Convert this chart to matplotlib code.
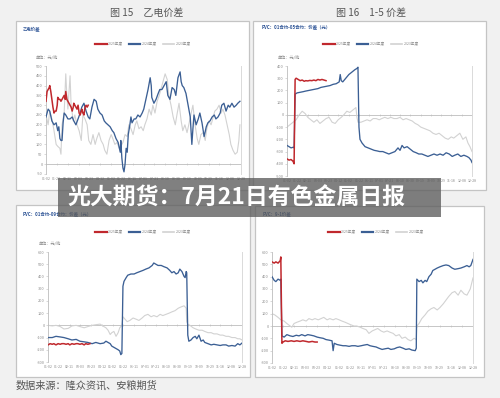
import numpy as np
import matplotlib
matplotlib.use('Agg')
import matplotlib.pyplot as plt
from matplotlib.patches import Rectangle
from matplotlib.lines import Line2D

plt.rcParams['font.family'] = ['Noto Sans CJK SC', 'DejaVu Sans']

W, H = 500, 398

# ---------------- data ----------------
years = ['2025年度', '2024年度', '2023年度']
colors = ['#c0282d', '#3b5f94', '#d2d2d2']
date_labels = ['01-02', '01-22', '02-11', '03-03', '03-23', '04-12', '05-02', '05-22',
               '06-11', '07-01', '07-21', '08-10', '08-30', '09-19', '10-09', '10-29',
               '11-18', '12-08', '12-28']

# Panel 1: 乙电价差
p1_red_days = [0, 2, 4, 6, 7, 9, 11, 13, 15, 17, 19, 21, 22, 24, 26, 28, 30, 32, 34, 36, 37, 39,
               41, 43, 45, 47, 49, 51, 52, 54, 56, 58, 60, 62, 64, 66, 67, 69, 71, 73, 75, 77, 79]
p1_red = [320, 370, 380, 390, 400, 370, 330, 290, 260, 270, 270, 300, 340, 330, 330, 320, 330,
          340, 350, 330, 370, 330, 320, 310, 300, 290, 270, 290, 310, 300, 290, 280, 300, 260,
          250, 270, 280, 260, 250, 290, 300, 290, 300]
p1_blue_days = [0, 4, 7, 11, 15, 19, 22, 24, 26, 28, 30, 32, 34, 37, 41, 45, 49, 52, 56, 60, 64,
                67, 71, 75, 79, 82, 86, 90, 94, 97, 101, 105, 109, 112, 116, 120, 124, 127, 131,
                135, 139, 140, 142, 144, 146, 148, 150, 152, 154, 157, 159, 161, 165, 168, 172,
                176, 180, 183, 187, 191, 195, 197, 198, 202, 206, 210, 213, 217, 221, 225, 228,
                232, 236, 240, 243, 247, 251, 253, 255, 258, 262, 266, 270, 273, 275, 277, 281,
                285, 288, 292, 296, 300, 303, 307, 311, 315, 318, 322, 326, 329, 333, 337, 341,
                344, 348, 352, 356, 359, 363]
p1_blue = [240, 280, 270, 220, 200, 210, 170, 190, 130, 120, 120, 210, 260, 250, 230, 230, 240,
           220, 200, 230, 260, 290, 310, 270, 240, 230, 290, 330, 320, 280, 260, 250, 220, 210,
           200, 190, 170, 160, 130, 110, 60, 120, 30, -20, -40, 0, 80, 60, 150, 200, 240, 210,
           230, 230, 250, 240, 260, 280, 330, 380, 440, 400, 340, 310, 330, 360, 380, 380, 400,
           420, 350, 330, 390, 380, 350, 440, 470, 420, 400, 390, 360, 300, 240, 100, 180, 250,
           200, 230, 260, 210, 140, 190, 210, 220, 240, 250, 230, 240, 260, 300, 310, 270, 300,
           290, 310, 290, 300, 310, 320]
p1_gray_days = [0, 4, 7, 11, 15, 19, 22, 26, 28, 30, 34, 37, 39, 41, 45, 47, 51, 54, 58, 62, 66,
                69, 73, 77, 80, 84, 88, 92, 95, 99, 103, 107, 110, 114, 118, 122, 125, 129, 133,
                137, 140, 144, 148, 152, 155, 159, 163, 167, 170, 174, 178, 182, 185, 189, 193,
                197, 200, 204, 208, 212, 215, 219, 223, 227, 230, 234, 238, 242, 245, 249, 253,
                256, 260, 264, 268, 271, 275, 279, 283, 286, 290, 294, 298, 301, 305, 309, 313,
                316, 320, 324, 328, 331, 335, 339, 343, 346, 350, 354, 358, 361, 363]
p1_gray = [250, 200, 270, 230, 170, 100, 90, 80, 50, 200, 260, 460, 350, 280, 450, 300, 220,
           250, 200, 170, 120, 250, 230, 200, 120, 100, 150, 100, 130, 160, 120, 100, 70, 50,
           120, 150, 130, 100, 110, 80, 90, 110, 150, 140, 200, 180, 150, 200, 220, 180, 190,
           170, 200, 230, 280, 250, 300, 260, 320, 350, 380, 420, 460, 430, 350, 300, 240, 200,
           250, 310, 220, 170, 200, 160, 210, 250, 300, 200, 130, 100, 150, 160, 120, 180, 220,
           200, 240, 270, 280, 300, 260, 280, 250, 200, 150, 100, 70, 50, 60, 120, 200]

# Panel 2: 1-5价差
p2_red_days = [0, 4, 8, 12, 14, 16, 18, 22, 26, 30, 34, 37, 41, 45, 49, 53, 57, 61, 65, 69, 73, 77]
p2_red = [-360, -370, -365, -380, -400, 290, 300, 290, 280, 285, 275, 280, 278, 282, 280, 285,
          280, 290, 285, 290, 285, 280]
p2_blue_days = [0, 4, 8, 12, 14, 16, 20, 26, 32, 37, 43, 49, 55, 61, 67, 73, 79, 85, 91, 97,
                103, 105, 107, 110, 116, 122, 128, 134, 138, 140, 142, 144, 148, 154, 160, 166,
                172, 178, 183, 189, 195, 201, 207, 213, 219, 223, 227, 231, 237, 243, 249, 255,
                260, 266, 272, 278, 284, 290, 296, 302, 308, 314, 320, 326, 331, 337, 343, 349,
                355, 359, 363, 365]
p2_blue = [-250, -260, -270, -265, -270, 170, 180, 185, 190, 195, 200, 205, 210, 215, 225, 230,
           235, 240, 250, 255, 270, 330, 280, 270, 300, 330, 350, 370, 380, 390, -100, -200,
           -230, -260, -270, -280, -290, -295, -300, -300, -310, -320, -310, -300, -270, -290,
           -250, -270, -260, -280, -300, -310, -320, -320, -330, -340, -330, -320, -330, -320,
           -330, -310, -320, -340, -330, -320, -340, -330, -340, -350, -370, -390]
p2_gray_days = [0, 6, 12, 18, 24, 30, 36, 41, 47, 53, 59, 65, 71, 77, 83, 89, 95, 101, 107, 112,
                118, 124, 130, 136, 138, 140, 146, 152, 158, 164, 170, 176, 182, 187, 193, 199,
                205, 211, 217, 223, 229, 235, 241, 247, 253, 258, 264, 270, 276, 282, 288, 294,
                300, 306, 312, 318, 324, 329, 335, 341, 347, 353, 357, 361, 365]
p2_gray = [-100, -80, -60, -40, 0, 30, 10, -20, -40, -60, -40, -70, -50, -30, -20, -60, -70,
           -40, -20, 0, 30, 20, 40, 60, -20, -60, -60, -50, -40, -50, -30, -30, -40, -30, -20,
           -30, -20, -30, -30, -20, -40, -30, -40, -50, -70, -80, -100, -110, -120, -130, -150,
           -160, -150, -170, -190, -200, -180, -190, -170, -150, -200, -180, -230, -260, -300]

# Panel 3: 01-09价差
p3_red_days = [0, 4, 8, 11, 15, 19, 23, 26, 30, 34, 38, 41, 45, 49, 53, 56, 60, 64, 68, 71, 75, 79]
p3_red = [-160, -150, -155, -150, -160, -150, -155, -150, -150, -155, -150, -160, -150, -155,
          -150, -150, -155, -150, -160, -150, -155, -150]
p3_blue_days = [0, 8, 15, 23, 30, 38, 45, 53, 60, 68, 75, 83, 90, 98, 105, 109, 113, 117, 120,
                124, 128, 132, 135, 137, 139, 141, 143, 147, 150, 156, 162, 167, 173, 179, 184,
                190, 196, 199, 203, 207, 213, 218, 224, 229, 233, 237, 241, 245, 248, 252, 256,
                258, 260, 261, 263, 265, 269, 273, 277, 280, 284, 288, 292, 295, 301, 307, 312,
                318, 324, 329, 335, 340, 346, 352, 357, 361, 365]
p3_blue = [-100, -100, -90, -95, -100, -110, -120, -115, -130, -135, -140, -150, -140, -150,
           -145, -130, -140, -150, -170, -180, -190, -200, -210, -240, -230, 320, 360, 390, 410,
           420, 420, 430, 440, 450, 460, 470, 490, 510, 500, 490, 490, 480, 470, 450, 430, 440,
           420, 430, 460, 440, 400, 390, 440, 430, -80, -130, -120, -100, -90, -110, -80, -130,
           -120, -140, -150, -160, -155, -160, -165, -160, -160, -170, -165, -170, -150, -160,
           -145]
p3_gray_days = [0, 8, 15, 23, 30, 38, 45, 53, 60, 68, 75, 83, 90, 98, 105, 109, 113, 117, 120,
                124, 128, 132, 135, 137, 139, 141, 145, 149, 154, 160, 166, 171, 177, 182, 188,
                194, 199, 205, 211, 216, 222, 228, 233, 239, 245, 250, 256, 260, 261, 263, 267,
                273, 278, 284, 290, 295, 301, 307, 312, 318, 324, 329, 335, 340, 346, 352, 357,
                361, 365]
p3_gray = [0, -5, 0, -10, -30, -25, -5, 0, -10, -20, -10, 0, 5, 10, -10, -20, -40, -75, -60,
           -50, -90, -60, -20, -10, 0, 70, 50, 30, 40, 60, 50, 40, 60, 80, 90, 70, 80, 70, 90,
           80, 90, 100, 110, 120, 140, 150, 160, 140, 30, 10, 0, -20, -30, -40, -40, -50, -60,
           -60, -70, -70, -80, -80, -90, -90, -100, -100, -110, -110, -120]

# Panel 4: 9-1价差
p4_red_days = [0, 4, 7, 11, 15, 16, 18, 20, 24, 29, 35, 40, 45, 51, 56, 62, 67, 73, 78, 82]
p4_red = [520, 510, 520, 510, 530, 560, -140, -130, -120, -125, -120, -125, -120, -125, -120,
          -125, -130, -125, -130, -130]
p4_blue_days = [0, 4, 7, 11, 15, 16, 18, 22, 27, 33, 38, 44, 49, 54, 60, 65, 71, 76, 82, 87,
                93, 98, 104, 109, 111, 113, 118, 123, 129, 134, 140, 145, 151, 156, 162, 167,
                173, 178, 183, 189, 194, 200, 205, 211, 216, 222, 227, 232, 238, 243, 249, 254,
                260, 262, 263, 267, 271, 274, 278, 281, 285, 289, 292, 296, 300, 305, 311, 316,
                321, 327, 332, 338, 343, 349, 354, 358, 361, 365]
p4_blue = [400, 370, 360, 380, 370, 380, -80, -90, -70, -80, -85, -75, -80, -70, -80, -70, -75,
           -80, -90, -95, -100, -110, -115, -120, -200, -140, -150, -155, -160, -160, -165,
           -160, -160, -165, -160, -155, -150, -160, -165, -170, -180, -190, -185, -180, -190,
           -185, -175, -170, -180, -190, -185, -195, -200, -180, 380, 360, 370, 350, 370, 360,
           400, 420, 450, 460, 470, 480, 490, 495, 490, 470, 460, 465, 470, 480, 490, 480, 490,
           540]
p4_gray_days = [0, 5, 11, 16, 22, 27, 33, 36, 40, 45, 51, 56, 62, 67, 73, 78, 84, 89, 94, 100,
                105, 111, 116, 122, 127, 133, 138, 143, 149, 154, 160, 165, 171, 176, 182, 187,
                192, 198, 203, 209, 214, 220, 225, 231, 236, 242, 247, 252, 258, 262, 263, 267,
                272, 278, 283, 289, 294, 300, 305, 311, 316, 321, 327, 332, 338, 343, 349, 354,
                360, 365]
p4_gray = [100, 90, 70, 50, 40, 20, 0, -10, 20, 30, 40, 50, 40, 60, 50, 60, 50, 60, 70, 50, 60,
           50, 60, 50, 40, 30, 20, 10, 0, 0, -10, -20, -30, -60, -40, -30, -20, -40, -50, -40,
           -50, -60, -80, -70, -100, -90, -110, -120, -100, -110, 0, 20, 60, 90, 120, 140, 150,
           130, 150, 180, 210, 240, 270, 280, 250, 290, 260, 250, 300, 390]

# ---------------- drawing ----------------
fig = plt.figure(figsize=(W / 100, H / 100), dpi=100)
fig.patch.set_facecolor('#f1f1f1')


def rect(x0, y0, x1, y1, **kw):
    r = Rectangle((x0 / W, 1 - y1 / H), (x1 - x0) / W, (y1 - y0) / H,
                  transform=fig.transFigure, **kw)
    fig.add_artist(r)
    return r


def ftext(x, y, s, **kw):
    return fig.text(x / W, 1 - y / H, s, **kw)


# frames
for (x0, y0, x1, y1) in [(16, 21, 249, 190), (253, 21, 486, 190),
                         (16, 205, 250, 377), (255, 206, 484, 377)]:
    rect(x0, y0, x1, y1, facecolor='white', edgecolor='#c4c4c4', lw=0.9, zorder=-5)


def make_axes(x0, x1, ytop, ybot, ylim, yticks):
    ax = fig.add_axes([x0 / W, 1 - ybot / H, (x1 - x0) / W, (ybot - ytop) / H])
    ax.set_xlim(0, 365)
    ax.set_ylim(*ylim)
    ax.patch.set_alpha(0)
    ax.spines['top'].set_visible(False)
    ax.spines['bottom'].set_visible(False)
    ax.spines['left'].set_color('#bdbdbd')
    ax.spines['left'].set_linewidth(0.6)
    ax.spines['right'].set_color('#dadada')
    ax.spines['right'].set_linewidth(0.7)
    ax.set_yticks(yticks)
    ax.set_yticklabels([str(v) for v in yticks])
    ax.tick_params(axis='y', length=1.5, width=0.4, color='#bdbdbd', labelsize=2.8,
                   labelcolor='#8a8a8a', pad=1)
    xt = np.linspace(0, 365, len(date_labels))
    ax.set_xticks(xt)
    ax.set_xticklabels(date_labels)
    ax.tick_params(axis='x', length=0, labelsize=2.5, labelcolor='#8a8a8a', pad=2.5)
    ax.axhline(0, color='#bdbdbd', lw=0.6, zorder=1)
    ax.plot(xt, np.zeros_like(xt), ls='none', marker='|', ms=1.6, mew=0.4, color='#bdbdbd',
            zorder=1)
    return ax


def draw_series(ax, red, blue, gray):
    ax.plot(gray[0], gray[1], color=colors[2], lw=0.8, zorder=2)
    ax.plot(blue[0], blue[1], color=colors[1], lw=0.95, zorder=3)
    ax.plot(red[0], red[1], color=colors[0], lw=1.1, zorder=4)


def add_legend(ax, cx, cy):
    handles = [Line2D([], [], color=colors[0], lw=1.6),
               Line2D([], [], color=colors[1], lw=1.6),
               Line2D([], [], color=colors[2], lw=1.2)]
    leg = ax.legend(handles, years, loc='center', bbox_to_anchor=(cx / W, 1 - cy / H),
                    bbox_transform=fig.transFigure, ncol=3, frameon=False, fontsize=2.6,
                    handlelength=3.2, handletextpad=0.4, columnspacing=1.6)
    for t in leg.get_texts():
        t.set_color('#8a8a8a')


ax1 = make_axes(46, 241, 66, 173.8, (-50, 500), list(range(-50, 501, 50)))
draw_series(ax1, (p1_red_days, p1_red), (p1_blue_days, p1_blue), (p1_gray_days, p1_gray))
add_legend(ax1, 143, 44)

ax2 = make_axes(287, 472, 66, 176, (-500, 400), list(range(-500, 401, 100)))
draw_series(ax2, (p2_red_days, p2_red), (p2_blue_days, p2_blue), (p2_gray_days, p2_gray))
add_legend(ax2, 371, 44)

ax3 = make_axes(48, 242, 252, 362, (-300, 600), list(range(-300, 601, 100)))
draw_series(ax3, (p3_red_days, p3_red), (p3_blue_days, p3_blue), (p3_gray_days, p3_gray))
add_legend(ax3, 143, 232)

ax4 = make_axes(272, 473, 252, 363, (-300, 600), list(range(-300, 601, 100)))
draw_series(ax4, (p4_red_days, p4_red), (p4_blue_days, p4_blue), (p4_gray_days, p4_gray))
add_legend(ax4, 376, 232)

# small panel titles and units
title_kw = dict(fontsize=3.2, color='#2f5597', fontweight='bold', va='center', ha='left')
ftext(23, 29, '乙电价差', **title_kw)
ftext(262, 27, 'PVC：01合约-05合约：价差（元）', **title_kw)
ftext(23, 214, 'PVC：01合约-09合约：价差（元）', **title_kw)
ftext(263, 214, 'PVC：9-1价差', **title_kw)
unit_kw = dict(fontsize=3.0, color='#8a8a8a', va='center', ha='left')
ftext(36, 57, '单位：元/吨', **unit_kw)
ftext(278, 57, '单位：元/吨', **unit_kw)
ftext(39, 243, '单位：元/吨', **unit_kw)

# figure headings
ftext(147, 13, '图 15　乙电价差', fontsize=7.2, color='#555555', ha='center', va='center')
ftext(371, 13, '图 16　1-5 价差', fontsize=7.2, color='#555555', ha='center', va='center')
ftext(16, 385, '数据来源：隆众资讯、安粮期货', fontsize=7.3, color='#555555', ha='left',
      va='center')

# banner
rect(58, 178, 441, 217, facecolor='#5c5c5c', edgecolor='none', alpha=0.78, zorder=10)
ftext(67, 198, '光大期货：7月21日有色金属日报', fontsize=16.5, color='white',
      fontweight='bold', ha='left', va='center', zorder=11)

fig.savefig('out.png', dpi=100, facecolor=fig.get_facecolor())
